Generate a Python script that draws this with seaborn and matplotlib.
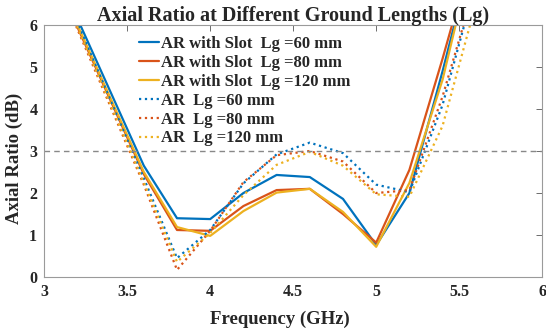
import pandas as pd
import numpy as np
import matplotlib
matplotlib.use('Agg')
import matplotlib.pyplot as plt
import seaborn as sns

## frequency points (GHz)
freq = [3.0, 3.2, 3.4, 3.6, 3.8, 4.0, 4.2, 4.4, 4.6, 4.8, 5.0, 5.2, 5.4, 5.6]

## axial ratio (dB)
ar_slot_60 = [8.0, 6.15, 4.4, 2.65, 1.40, 1.38, 2.00, 2.43, 2.38, 1.86, 0.76, 2.00, 4.9, 8.0]
ar_slot_80 = [7.8, 5.95, 4.2, 2.45, 1.12, 1.10, 1.69, 2.07, 2.10, 1.50, 0.82, 2.55, 5.2, 8.0]
ar_slot_120 = [7.8, 6.00, 4.25, 2.50, 1.19, 0.98, 1.57, 2.01, 2.10, 1.55, 0.72, 2.24, 4.7, 8.0]
ar_60 = [7.9, 6.05, 4.2, 2.35, 0.45, 1.12, 2.23, 2.92, 3.20, 2.95, 2.20, 2.02, 4.1, 7.0]
ar_80 = [7.8, 5.90, 4.05, 2.20, 0.17, 1.10, 2.26, 2.90, 3.00, 2.75, 2.00, 2.07, 4.3, 7.0]
ar_120 = [7.8, 5.95, 4.1, 2.25, 0.36, 1.05, 1.95, 2.67, 2.98, 2.65, 1.97, 1.91, 3.6, 6.5]

labels = ['AR with Slot  Lg =60 mm', 'AR with Slot  Lg =80 mm', 'AR with Slot  Lg =120 mm',
          'AR  Lg =60 mm', 'AR  Lg =80 mm', 'AR  Lg =120 mm']
series = [ar_slot_60, ar_slot_80, ar_slot_120, ar_60, ar_80, ar_120]

blue = (0, 0.447, 0.741)
red = (0.85, 0.325, 0.098)
yellow = (0.929, 0.694, 0.125)
colors = [blue, red, yellow, blue, red, yellow]
styles = ['-', '-', '-', ':', ':', ':']

sns.set_style('white')
plt.rcParams['font.family'] = ['Liberation Serif', 'DejaVu Serif']
plt.rcParams['font.weight'] = 'bold'

fig = plt.figure(figsize=(5.46, 3.33), dpi=100)
ax = fig.add_axes([0.081, 0.168, 0.912, 0.757])

for lab, vals, c, ls in zip(labels, series, colors, styles):
    sns.lineplot(x=freq, y=vals, ax=ax, color=c, linestyle=ls, linewidth=1.6, label=lab)

ax.axhline(3, color='#888888', linestyle='--', linewidth=1.0, dashes=(4, 3))

ax.set_xlim(3, 6)
ax.set_ylim(0, 6)
ax.set_xticks([3, 3.5, 4, 4.5, 5, 5.5, 6])
ax.set_xticklabels(['3', '3.5', '4', '4.5', '5', '5.5', '6'])
ax.set_yticks([0, 1, 2, 3, 4, 5, 6])
ax.tick_params(direction='in', length=4, width=0.6, color='#555555', top=True, right=True,
               labelsize=11.5, pad=5)
for t in ax.get_xticklabels() + ax.get_yticklabels():
    t.set_fontweight('bold')
for s in ax.spines.values():
    s.set_color('#9a9a9a')
    s.set_linewidth(0.8)

ax.set_title('Axial Ratio at Different Ground Lengths (Lg)', fontsize=14.5, fontweight='bold', pad=3)
ax.set_xlabel('Frequency (GHz)', fontsize=13.5, fontweight='bold')
ax.set_ylabel('Axial Ratio (dB)', fontsize=13.5, fontweight='bold')
ax.xaxis.set_label_coords(0.474, -0.135)
ax.yaxis.set_label_coords(-0.042, 0.47)

leg = ax.legend(loc='upper left', bbox_to_anchor=(0.17, 0.995), frameon=False,
                prop={'family': 'Liberation Serif', 'weight': 'bold', 'size': 12},
                handlelength=1.2, handletextpad=0.12, labelspacing=0.17, borderaxespad=0.2)

fig.savefig('out.png', dpi=100)
